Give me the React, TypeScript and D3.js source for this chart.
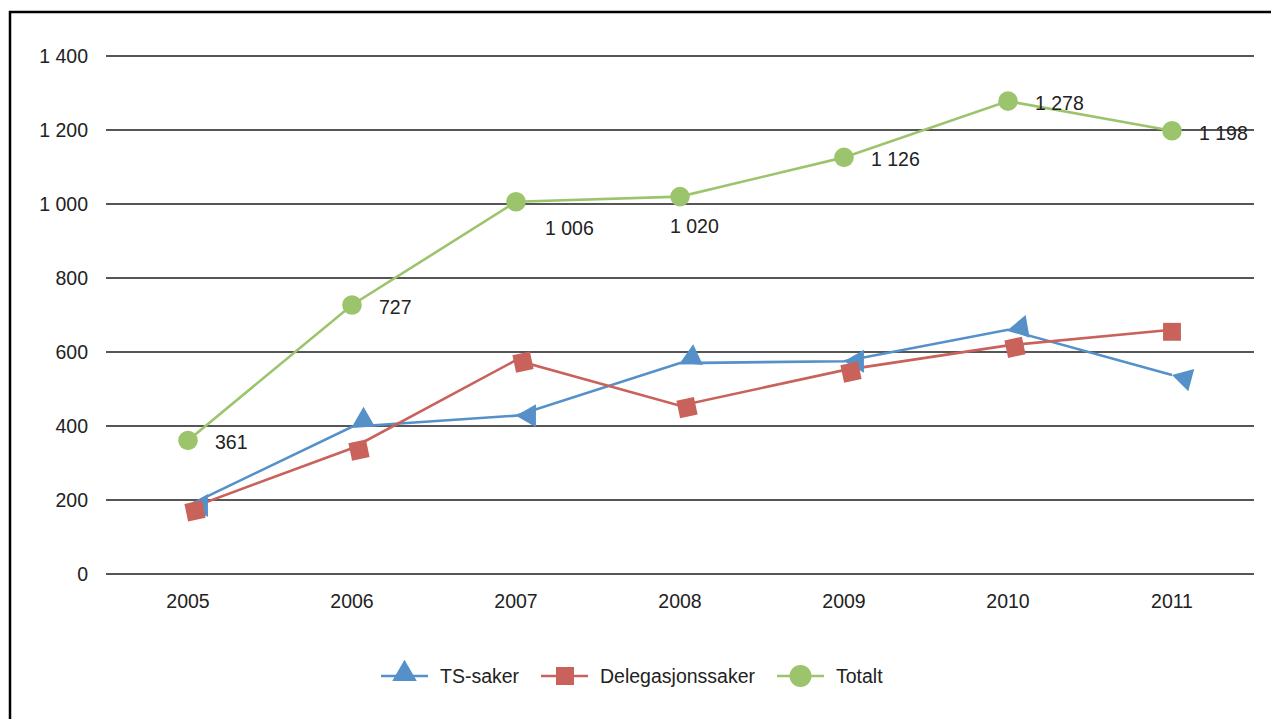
import React from "react";
import * as d3 from "d3";

const years = ["2005", "2006", "2007", "2008", "2009", "2010", "2011"];
const tsSaker = [185, 398, 428, 570, 575, 660, 538];
const delegasjonssaker = [176, 340, 578, 455, 551, 618, 660];
const totalt = [361, 727, 1006, 1020, 1126, 1278, 1198];
const totaltLabels = ["361", "727", "1 006", "1 020", "1 126", "1 278", "1 198"];
const yTicks = [0, 200, 400, 600, 800, 1000, 1200, 1400];
const seriesNames = ["TS-saker", "Delegasjonssaker", "Totalt"];

// marker styling (rotation in degrees of a left-pointing triangle whose apex sits on the point)
const triRotation = [0, 90, 0, -25, 0, -10, 15];

const W = 1271;
const H = 719;
const FONT = "'Liberation Sans', Arial, sans-serif";
const BLUE = "#5590c8";
const RED = "#c8625b";
const GREEN = "#9cc46c";

const fmt = (v: number) => d3.format(",")(v).replace(/,/g, " ");

export default function App() {
  const x = d3.scaleBand().domain(years).range([106, 1254]);
  const y = d3.scaleLinear().domain([0, 1400]).range([574, 56]);
  const cx = (i: number) => (x(years[i]) as number) + x.bandwidth() / 2;
  const line = d3
    .line<number>()
    .x((_, i) => cx(i))
    .y((d) => y(d));

  const s = 23;
  const h = s * 0.866;
  const triLeft = `M0,0L${h},${-s / 2}L${h},${s / 2}Z`;
  const sq = d3.symbol().type(d3.symbolSquare).size(320)();
  const legendTri = d3.symbol().type(d3.symbolTriangle).size(260)();

  const labelPos = (i: number) => {
    if (i === 2) return { dx: 29, dy: 26 };
    if (i === 3) return { dx: -10, dy: 30 };
    return { dx: 27, dy: 2 };
  };

  const legendItems = [
    { name: seriesNames[0], color: BLUE, x: 381, kind: "tri" },
    { name: seriesNames[1], color: RED, x: 541, kind: "sq" },
    { name: seriesNames[2], color: GREEN, x: 777, kind: "circle" },
  ];

  return (
    <svg
      width={W}
      height={H}
      style={{ position: "absolute", left: 0, top: 0, background: "#fff" }}
      fontFamily={FONT}
    >
      <rect x={10} y={12} width={1300} height={800} fill="none" stroke="#000" strokeWidth={2.5} />
      {yTicks.map((t) => (
        <g key={t}>
          <line x1={106} x2={1254} y1={y(t)} y2={y(t)} stroke="#1e1e1e" strokeWidth={1.4} />
          <text x={88} y={y(t)} dy="0.35em" textAnchor="end" fontSize={19.5} fill="#222">
            {fmt(t)}
          </text>
        </g>
      ))}
      {years.map((yr, i) => (
        <text key={yr} x={cx(i)} y={608} textAnchor="middle" fontSize={19.5} fill="#222">
          {yr}
        </text>
      ))}

      <path d={line(tsSaker) || ""} fill="none" stroke={BLUE} strokeWidth={2.6} />
      <path d={line(delegasjonssaker) || ""} fill="none" stroke={RED} strokeWidth={2.6} />
      <path d={line(totalt) || ""} fill="none" stroke={GREEN} strokeWidth={2.6} />

      {tsSaker.map((v, i) => {
        const r = triRotation[i];
        const tr =
          r === 90
            ? `translate(${cx(i) + s / 2},${y(v) - h}) rotate(90)`
            : `translate(${cx(i)},${y(v)}) rotate(${r})`;
        return <path key={"t" + i} d={triLeft} transform={tr} fill={BLUE} />;
      })}
      {delegasjonssaker.map((v, i) => (
        <path
          key={"d" + i}
          d={sq || ""}
          transform={`translate(${cx(i) + (i === 6 ? 0 : 7)},${y(v) + 2}) rotate(${i === 6 ? 0 : -12})`}
          fill={RED}
        />
      ))}
      {totalt.map((v, i) => (
        <circle key={"c" + i} cx={cx(i)} cy={y(v)} r={9.8} fill={GREEN} />
      ))}
      {totalt.map((v, i) => {
        const p = labelPos(i);
        return (
          <text key={"l" + i} x={cx(i) + p.dx} y={y(v) + p.dy} dy="0.35em" fontSize={19.5} fill="#222">
            {totaltLabels[i]}
          </text>
        );
      })}

      {legendItems.map((it) => (
        <g key={it.name}>
          <line x1={it.x} x2={it.x + 47} y1={676} y2={676} stroke={it.color} strokeWidth={2.6} />
          {it.kind === "tri" && (
            <path d={legendTri || ""} transform={`translate(${it.x + 23.5},${674})`} fill={it.color} />
          )}
          {it.kind === "sq" && <rect x={it.x + 15} y={667} width={18} height={18} fill={it.color} />}
          {it.kind === "circle" && <circle cx={it.x + 23.5} cy={676} r={11} fill={it.color} />}
          <text x={it.x + 59} y={676} dy="0.35em" fontSize={19.5} fill="#222">
            {it.name}
          </text>
        </g>
      ))}
    </svg>
  );
}
